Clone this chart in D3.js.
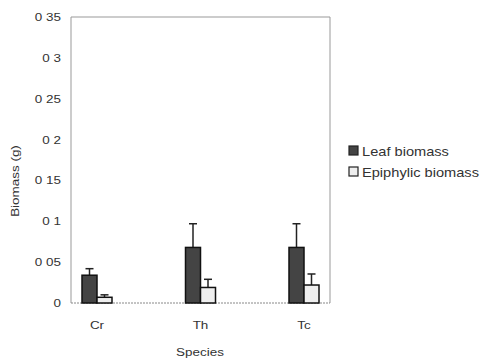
<!DOCTYPE html>
<html>
<head>
<meta charset="utf-8">
<script src="https://cdn.jsdelivr.net/npm/d3@7"></script>
<style>
  body { margin: 0; background: #fff; }
  text { font-family: Arial, "Liberation Sans", sans-serif; fill: #333; }
</style>
</head>
<body>
<script>
var species = ["Cr", "Th", "Tc"];
var leaf = [0.034, 0.068, 0.068];
var leafErr = [0.008, 0.029, 0.029];
var epi = [0.007, 0.019, 0.022];
var epiErr = [0.003, 0.010, 0.0135];
var yTicks = [0, 0.05, 0.1, 0.15, 0.2, 0.25, 0.3, 0.35];
var yTickLabels = ["0", "0 05", "0 1", "0 15", "0 2", "0 25", "0 3", "0 35"];
var seriesNames = ["Leaf biomass", "Epiphylic biomass"];

var svg = d3.select("body").append("svg").attr("width", 480).attr("height", 358);

// careful: "top" is a reserved window prop
var pLeft = 71, pRight = 330, pTop = 17, pBottom = 303;
var y = d3.scaleLinear().domain([0, 0.35]).range([pBottom, pTop]);
var x = d3.scalePoint().domain(species).range([97, 304]);
var bw = 15;
var sx = 1.17; // scanned text looks stretched sideways

function label(px, py, txt, anchor, size, rot) {
  return svg.append("text")
    .attr("transform", "translate(" + px + "," + py + ")" + (rot ? " rotate(" + rot + ")" : "") + " scale(" + sx + ",1)")
    .attr("text-anchor", anchor).attr("font-size", size)
    .text(txt);
}

// plot frame
svg.append("path")
  .attr("d", "M" + pLeft + "," + pBottom + "V" + pTop + "H" + pRight + "V" + pBottom)
  .attr("fill", "none").attr("stroke", "#999").attr("stroke-width", 1);
svg.append("line")
  .attr("x1", pLeft).attr("x2", pRight).attr("y1", pBottom).attr("y2", pBottom)
  .attr("stroke", "#888").attr("stroke-dasharray", "2,1");

// y axis labels
yTicks.forEach(function(d, i) {
  label(61, y(d) + 4, yTickLabels[i], "end", 11.5);
});
label(19, 181, "Biomass (g)", "middle", 11.5, -90);

// x labels
species.forEach(function(d) {
  label(x(d), 329, d, "middle", 11.5);
});
label(200, 356, "Species", "middle", 11.5);

// error bars (upward only)
function errBars(vals, errs, off) {
  var g = svg.append("g");
  vals.forEach(function(v, i) {
    var cx = x(species[i]) + off;
    g.append("line").attr("x1", cx).attr("x2", cx)
      .attr("y1", y(v)).attr("y2", y(v + errs[i]))
      .attr("stroke", "#222").attr("stroke-width", 1.5);
    g.append("line").attr("x1", cx - 4).attr("x2", cx + 4)
      .attr("y1", y(v + errs[i])).attr("y2", y(v + errs[i]))
      .attr("stroke", "#222").attr("stroke-width", 1.5);
  });
}
errBars(leaf, leafErr, -bw / 2);
errBars(epi, epiErr, bw / 2);

// bars
svg.selectAll(".leaf").data(leaf).enter().append("rect")
  .attr("x", function(d, i) { return x(species[i]) - bw; })
  .attr("y", function(d) { return y(d); })
  .attr("width", bw).attr("height", function(d) { return pBottom - y(d); })
  .attr("fill", "#444").attr("stroke", "#111").attr("stroke-width", 1.5);
svg.selectAll(".epi").data(epi).enter().append("rect")
  .attr("x", function(d, i) { return x(species[i]); })
  .attr("y", function(d) { return y(d); })
  .attr("width", bw).attr("height", function(d) { return pBottom - y(d); })
  .attr("fill", "#eee").attr("stroke", "#111").attr("stroke-width", 1.5);

// legend
var fills = ["#444", "#eee"];
seriesNames.forEach(function(name, i) {
  var ly = 151 + i * 21;
  svg.append("rect").attr("x", 349).attr("y", ly - 5).attr("width", 9).attr("height", 9)
    .attr("fill", fills[i]).attr("stroke", "#222").attr("stroke-width", 1.2);
  label(362, ly + 4.5, name, "start", 12.5);
});
</script>
</body>
</html>
